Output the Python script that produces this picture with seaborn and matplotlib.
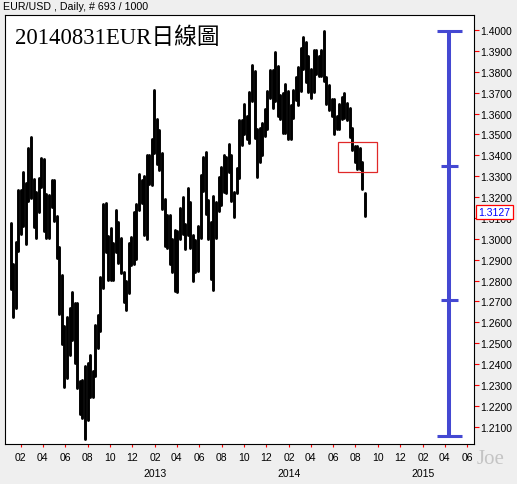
import pandas as pd
import numpy as np
import matplotlib
matplotlib.use('Agg')
import matplotlib.pyplot as plt
import matplotlib.dates as mdates
import matplotlib.transforms as mtransforms
from matplotlib.patches import Rectangle
import seaborn as sns

# --- data: EUR/USD weekly high / low, weeks starting Monday 2012-01-02 ---
FIRST_WEEK = '2012-01-02'
week_high = [
    1.3078, 1.2879, 1.2987, 1.3234, 1.3234, 1.3322, 1.3266, 1.3435, 1.3486, 1.3287,
    1.3226, 1.3291, 1.3385, 1.3384, 1.3213, 1.3212, 1.3283, 1.3283, 1.3108, 1.2962,
    1.2825, 1.2581, 1.2625, 1.2669, 1.2747, 1.2692, 1.2692, 1.2318, 1.2323, 1.2390,
    1.2404, 1.2443, 1.2365, 1.2588, 1.2637, 1.2817, 1.3169, 1.3172, 1.3011, 1.3053,
    1.2979, 1.3140, 1.3080, 1.3003, 1.2842, 1.2800, 1.2980, 1.3010, 1.3127, 1.3166,
    1.3308, 1.3283, 1.3299, 1.3403, 1.3403, 1.3480, 1.3711, 1.3573, 1.3520, 1.3410,
    1.3191, 1.3114, 1.3113, 1.3000, 1.3043, 1.3037, 1.3147, 1.3201, 1.3070, 1.3243,
    1.3177, 1.3017, 1.2995, 1.3062, 1.3306, 1.3390, 1.3416, 1.3186, 1.3080, 1.3207,
    1.3175, 1.3298, 1.3346, 1.3401, 1.3392, 1.3452, 1.3402, 1.3223, 1.3341, 1.3569,
    1.3567, 1.3646, 1.3588, 1.3705, 1.3832, 1.3802, 1.3526, 1.3529, 1.3555, 1.3621,
    1.3709, 1.3810, 1.3810, 1.3893, 1.3826, 1.3688, 1.3700, 1.3740, 1.3706, 1.3640,
    1.3714, 1.3773, 1.3824, 1.3915, 1.3966, 1.3943, 1.3876, 1.3811, 1.3906, 1.3904,
    1.3876, 1.3906, 1.3993, 1.3775, 1.3737, 1.3670, 1.3670, 1.3588, 1.3644, 1.3677,
    1.3700, 1.3650, 1.3627, 1.3530, 1.3445, 1.3445, 1.3433, 1.3366, 1.3220,
]
week_low = [
    1.2760, 1.2624, 1.2668, 1.2940, 1.3022, 1.3062, 1.2973, 1.3180, 1.3194, 1.3056,
    1.3005, 1.3126, 1.3246, 1.3036, 1.3002, 1.3004, 1.3150, 1.3084, 1.2910, 1.2640,
    1.2495, 1.2288, 1.2332, 1.2442, 1.2516, 1.2405, 1.2287, 1.2162, 1.2143, 1.2042,
    1.2134, 1.2242, 1.2240, 1.2342, 1.2475, 1.2560, 1.2762, 1.2939, 1.2801, 1.2802,
    1.2802, 1.2935, 1.2883, 1.2836, 1.2699, 1.2661, 1.2741, 1.2873, 1.2877, 1.2904,
    1.3140, 1.3171, 1.3018, 1.3000, 1.3264, 1.3256, 1.3412, 1.3356, 1.3330, 1.3144,
    1.2966, 1.2955, 1.2880, 1.2843, 1.2750, 1.2745, 1.3000, 1.3021, 1.2953, 1.3017,
    1.2955, 1.2797, 1.2843, 1.2847, 1.3006, 1.3231, 1.3120, 1.2998, 1.2807, 1.2755,
    1.3006, 1.3135, 1.3160, 1.3225, 1.3220, 1.3320, 1.3180, 1.3105, 1.3220, 1.3290,
    1.3448, 1.3500, 1.3480, 1.3460, 1.3659, 1.3481, 1.3295, 1.3367, 1.3403, 1.3490,
    1.3528, 1.3675, 1.3627, 1.3660, 1.3590, 1.3573, 1.3507, 1.3508, 1.3479, 1.3477,
    1.3579, 1.3666, 1.3643, 1.3706, 1.3812, 1.3749, 1.3705, 1.3672, 1.3703, 1.3789,
    1.3780, 1.3782, 1.3755, 1.3647, 1.3615, 1.3586, 1.3503, 1.3526, 1.3524, 1.3574,
    1.3577, 1.3571, 1.3488, 1.3423, 1.3366, 1.3333, 1.3332, 1.3239, 1.3110,
]
LAST_CLOSE = 1.3127

y_ticks = [1.21, 1.22, 1.23, 1.24, 1.25, 1.26, 1.27, 1.28, 1.29, 1.30,
           1.31, 1.32, 1.33, 1.34, 1.35, 1.36, 1.37, 1.38, 1.39, 1.40]
year_labels = ['2013', '2014', '2015']

bracket_date = '2015-04-14'
bracket_levels = [1.3993, 1.3350, 1.2705, 1.2055]
box_dates = ['2014-06-15', '2014-09-30']
box_prices = [1.3319, 1.3462]

# --- figure ---
sns.set_theme(style='white')
plt.rcParams['font.family'] = ['Liberation Sans', 'Noto Sans CJK TC']

W, H = 517, 485
fig = plt.figure(figsize=(W / 100, H / 100), dpi=100, facecolor='#EFEFEF')
ax = fig.add_axes([5 / W, 1 - 445 / H, 469 / W, 429 / H])
ax.set_facecolor('white')

n = len(week_high)
mids = pd.date_range(FIRST_WEEK, periods=n, freq='7D') + pd.Timedelta(days=2)
df = pd.DataFrame({'week': range(n), 'date': mids, 'high': week_high, 'low': week_low})
long = df.melt(id_vars=['week', 'date'], value_vars=['high', 'low'], value_name='price')

sns.lineplot(data=long, x='date', y='price', units='week', estimator=None,
             color='black', lw=2.1, legend=False, ax=ax)

# blue bracket
bd = pd.Timestamp(bracket_date)
ax.plot([bd, bd], [bracket_levels[0], bracket_levels[-1]], color='#4448D2', lw=2.9,
        solid_capstyle='butt', zorder=5)
for i, lvl in enumerate(bracket_levels):
    half = pd.Timedelta(days=34) if i in (0, len(bracket_levels) - 1) else pd.Timedelta(days=23)
    ax.plot([bd - half, bd + half], [lvl, lvl], color='#4448D2', lw=2.2,
            solid_capstyle='butt', zorder=5)

# red box
x0 = mdates.date2num(pd.Timestamp(box_dates[0]))
x1 = mdates.date2num(pd.Timestamp(box_dates[1]))
ax.add_patch(Rectangle((x0, box_prices[0]), x1 - x0, box_prices[1] - box_prices[0],
                       fill=False, ec='#E02828', lw=0.9, zorder=6))

ax.set_xlim(pd.Timestamp('2011-12-20'), pd.Timestamp('2015-06-20'))
ax.set_ylim(1.20172, 1.40718)
ax.set_xlabel('')
ax.set_ylabel('')

ax.xaxis.set_major_locator(mdates.MonthLocator(bymonth=[2, 4, 6, 8, 10, 12]))
ax.xaxis.set_major_formatter(mdates.DateFormatter('%m'))
ax.yaxis.tick_right()
ax.set_yticks(y_ticks)
ax.set_yticklabels([f'{v:.4f}' for v in y_ticks])
ax.tick_params(axis='x', bottom=True, direction='out', length=2, width=0.8,
               color='red', labelcolor='black', labelsize=7.5, pad=4)
ax.tick_params(axis='y', right=True, left=False, direction='out', length=3.4, width=0.8,
               color='red', labelcolor='black', labelsize=7.5, pad=0.8)
for sp in ax.spines.values():
    sp.set_color('black')
    sp.set_linewidth(0.8)

# year row
trans = mtransforms.blended_transform_factory(ax.transData, ax.transAxes)
for yl in year_labels:
    ax.text(pd.Timestamp(f'{yl}-02-01'), -29 / 429, yl, transform=trans,
            ha='center', va='center', fontsize=7.5, color='black')

# last price label (covers the 1.3100 tick label, as in the source chart)
ptrans = mtransforms.blended_transform_factory(ax.transAxes, ax.transData)
ax.text(1 + 4.5 / 469, LAST_CLOSE, f'{LAST_CLOSE:.4f}', transform=ptrans,
        ha='left', va='center', fontsize=7.5, color='blue', clip_on=False, zorder=10,
        bbox=dict(boxstyle='square,pad=0.2', fc='white', ec='red', lw=0.9))

# titles / watermark
fig.text(3 / W, 1 - 9.5 / H, 'EUR/USD , Daily, # 693 / 1000', fontsize=7.7,
         va='baseline', ha='left', color='black')
fig.text(15 / W, 1 - 44 / H, '20140831EUR日線圖', fontsize=16.4,
         family=['Liberation Serif', 'Noto Sans CJK TC'], va='baseline', ha='left',
         color='black')
fig.text(477 / W, 1 - 464 / H, 'Joe', fontsize=15, family='Liberation Serif',
         color='#C4C4C4', va='baseline', ha='left')

fig.savefig('out.png', dpi=100, facecolor=fig.get_facecolor())
